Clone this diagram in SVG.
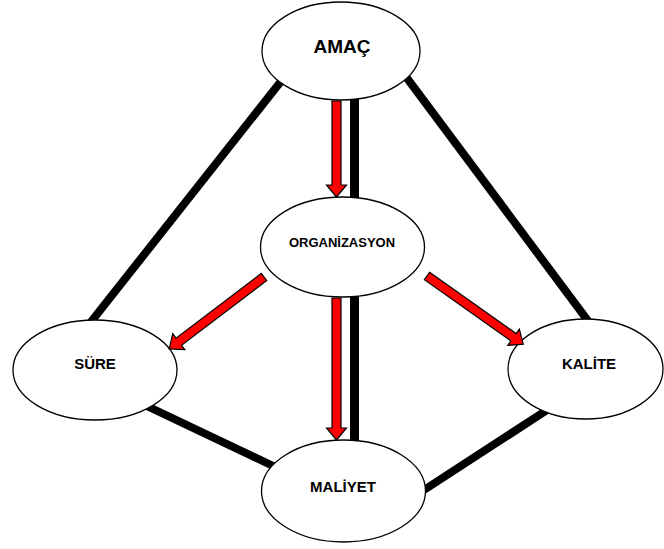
<svg xmlns="http://www.w3.org/2000/svg" width="664" height="549" viewBox="0 0 664 549">
<style>
.link{stroke:#000;stroke-width:8;fill:none}
.node ellipse{fill:#fff;stroke:#000;stroke-width:1.3}
.node text{font-family:"Liberation Sans",Arial,sans-serif;font-weight:bold;fill:#000;text-anchor:middle}
.arrow{fill:#f00;stroke:#000;stroke-width:1.2;stroke-linejoin:miter}
</style>
<defs>
<polygon id="a96" points="0,-4.5 84,-4.5 84,-10 96,0 84,10 84,4.5 0,4.5"/>
</defs>
<rect width="664" height="549" fill="#fff"/>
<g id="connectors">
<line class="link" x1="297" y1="61" x2="83" y2="332"/>
<line class="link" x1="392" y1="58" x2="597" y2="333"/>
<line class="link" x1="130" y1="398" x2="292" y2="475"/>
<line class="link" x1="567" y1="397" x2="404" y2="503"/>
<line class="link" x1="354.5" y1="90" x2="354.5" y2="452" stroke-width="9" style="stroke-width:9"/>
</g>
<g id="amac" class="node"><ellipse cx="341" cy="51" rx="79" ry="49"/><text x="342" y="53" font-size="19">AMAÇ</text></g>
<g id="organizasyon" class="node"><ellipse cx="342.5" cy="247" rx="82" ry="50"/><text x="342" y="247" font-size="13">ORGANİZASYON</text></g>
<g id="sure" class="node"><ellipse cx="95" cy="370" rx="82" ry="50"/><text x="95" y="369" font-size="15">SÜRE</text></g>
<g id="kalite" class="node"><ellipse cx="585.5" cy="369" rx="77.5" ry="50"/><text x="589" y="369" font-size="15">KALİTE</text></g>
<g id="maliyet" class="node"><ellipse cx="343.5" cy="491" rx="82" ry="51"/><text x="343" y="492" font-size="15">MALİYET</text></g>
<g id="arrows">
<polygon class="arrow" points="0,-4.5 84,-4.5 84,-10 96,0 84,10 84,4.5 0,4.5" transform="translate(336.5,101) rotate(90)"/>
<polygon class="arrow" points="0,-4.5 130,-4.5 130,-10 142,0 130,10 130,4.5 0,4.5" transform="translate(336.5,298) rotate(90)"/>
<polygon class="arrow" points="0,-4.5 107,-4.5 107,-10 119,0 107,10 107,4.5 0,4.5" transform="translate(264,277) rotate(142.8)"/>
<polygon class="arrow" points="0,-4.5 106,-4.5 106,-10 118,0 106,10 106,4.5 0,4.5" transform="translate(427,276) rotate(35.3)"/>
</g>
</svg>
